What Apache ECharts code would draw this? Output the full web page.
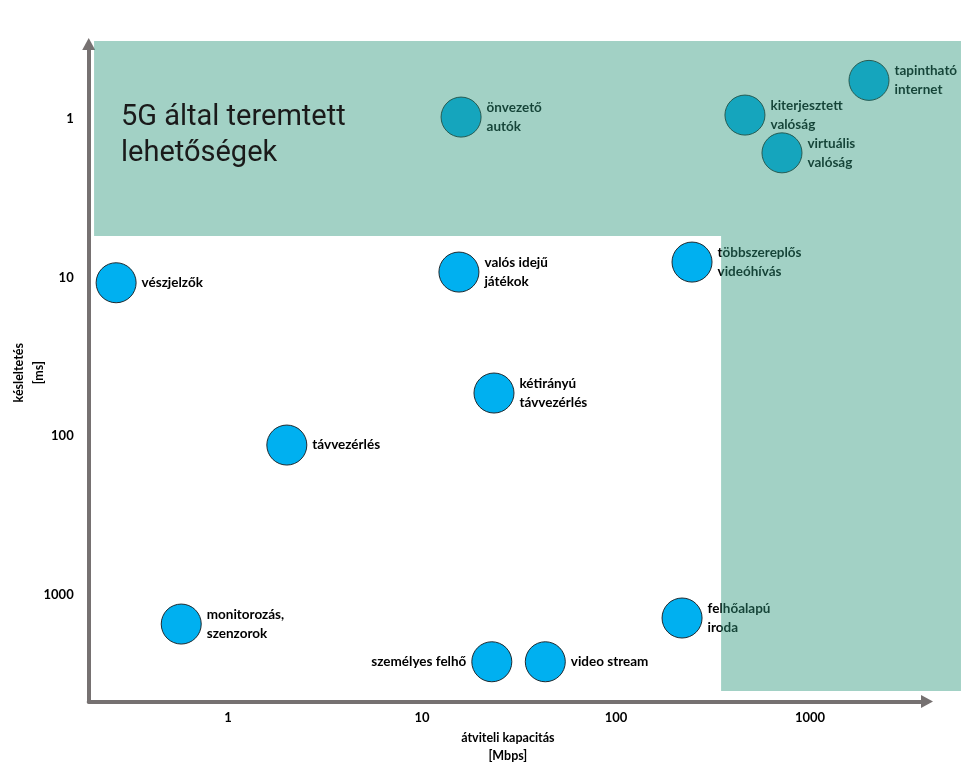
<!DOCTYPE html>
<html><head><meta charset="utf-8">
<script src="https://cdn.jsdelivr.net/npm/echarts@6/dist/echarts.min.js"></script>
<style>html,body{margin:0;padding:0;background:#fff}#c{width:969px;height:773px}</style>
</head><body><div id="c"></div>
<script>
// ---- data ----
const names = ['vészjelzők','önvezető\nautók','valós idejű\njátékok','többszereplős\nvideóhívás','kiterjesztett\nvalóság','virtuális\nvalóság','tapintható\ninternet','kétirányú\ntávvezérlés','távvezérlés','monitorozás,\nszenzorok','felhőalapú\niroda','személyes felhő','video stream'];
const capacityMbps = [0.265, 15.9, 15.5, 246.5, 462, 717, 2014, 23.5, 2.01, 0.574, 219, 22.9, 43.2];
const latencyMs   = [10.8, 0.976, 9.25, 8.0, 0.948, 1.64, 0.573, 53.5, 113.8, 1528, 1400, 2641, 2641];
const labelSide   = ['right','right','right','right','right','right','right','right','right','right','right','left','right'];
const xTicks = [1, 10, 100, 1000];
const yTicks = [1, 10, 100, 1000];
const xRange = [0.1914, 4009];
const yRange = [0.338, 4701];
// 5G zone outline (capacity, latency)
const zoneCapacity = [0.204, 6000, 6000, 348, 348, 0.204];
const zoneLatency  = [0.324, 0.324, 4040, 4040, 5.48, 5.48];
const zoneTitle = '5G által teremtett\nlehetőségek';
const xName = 'átviteli kapacitás\n[Mbps]';
const yName = 'késleltetés\n[ms]';

function tickFmt(ticks){
  return function(v){
    for (const t of ticks) if (Math.abs(v / t - 1) < 1e-6) return String(t);
    return '';
  };
}
const FONT = 'Lato';
const axisColor = '#767171';

const chart = echarts.init(document.getElementById('c'));
chart.setOption({
  animation: false,
  backgroundColor: '#fff',
  grid: {left: 88.7, right: 42, top: 44, bottom: 71.5, containLabel: false, outerBoundsMode: 'none'},
  xAxis: {
    type: 'log', logBase: 10, min: xRange[0], max: xRange[1],
    axisLine: {show: true, onZero: false, symbol: ['none', 'triangle'], symbolSize: [13, 12], lineStyle: {color: axisColor, width: 4}},
    axisTick: {show: false}, splitLine: {show: false}, minorTick: {show: false},
    axisLabel: {formatter: tickFmt(xTicks), margin: 10, color: '#000', fontWeight: 'bold', fontSize: 13, fontFamily: FONT, showMinLabel: false, showMaxLabel: false},
    name: xName, nameLocation: 'middle', nameGap: 27, nameMoveOverlap: false,
    nameTextStyle: {color: '#000', fontWeight: 'bold', fontSize: 12.5, fontFamily: FONT, lineHeight: 18}
  },
  yAxis: {
    type: 'log', logBase: 10, inverse: true, min: yRange[0], max: yRange[1],
    axisLine: {show: true, onZero: false, symbol: ['none', 'triangle'], symbolSize: [13, 12], lineStyle: {color: axisColor, width: 4}},
    axisTick: {show: false}, splitLine: {show: false}, minorTick: {show: false},
    axisLabel: {formatter: tickFmt(yTicks), margin: 15, color: '#000', fontWeight: 'bold', fontSize: 13, fontFamily: FONT, showMinLabel: false, showMaxLabel: false},
    name: yName, nameLocation: 'middle', nameRotate: 90, nameGap: 40, nameMoveOverlap: false,
    nameTextStyle: {color: '#000', fontWeight: 'bold', fontSize: 12.5, fontFamily: FONT, lineHeight: 20}
  },
  graphic: [{
    type: 'text', left: 121, top: 100, z: 100,
    style: {text: zoneTitle, font: '29px Roboto', fill: '#1a1a1a', lineHeight: 36}
  }],
  series: [
    {
      type: 'scatter', z: 2,
      symbolSize: 40,
      itemStyle: {color: '#00b0f0', borderColor: '#1f2a30', borderWidth: 1, opacity: 1},
      label: {show: true, formatter: '{b}', distance: 5, color: '#000', fontWeight: 'bold', fontSize: 13.5, fontFamily: FONT, lineHeight: 19, align: 'left'},
      data: names.map((n, i) => ({
        name: n, value: [capacityMbps[i], latencyMs[i]],
        label: {position: labelSide[i], align: labelSide[i] === 'left' ? 'right' : 'left'}
      }))
    },
    {
      type: 'custom', z: 10, silent: true, clip: false,
      data: [[zoneCapacity[0], zoneLatency[0]]],
      encode: {x: 0, y: 1},
      renderItem: function(params, api){
        const pts = zoneCapacity.map((c, i) => api.coord([c, zoneLatency[i]]));
        return {type: 'polygon', shape: {points: pts}, style: {fill: 'rgba(47,152,125,0.447)'}};
      }
    }
  ]
});
</script>
</body></html>
